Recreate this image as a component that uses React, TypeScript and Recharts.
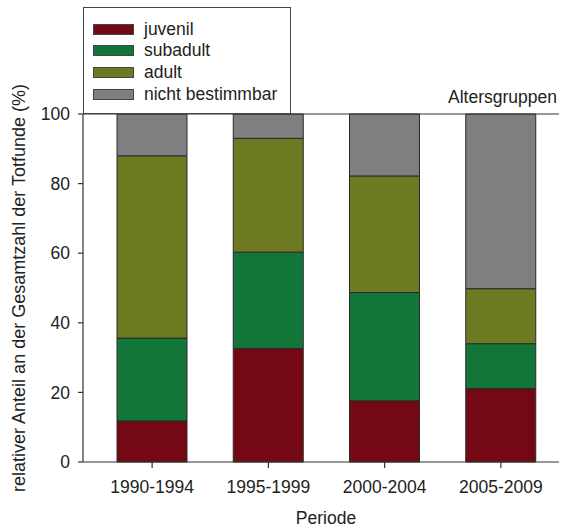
import React from 'react';
import { BarChart, Bar, XAxis, YAxis, ReferenceLine, Legend, Label } from 'recharts';

const periods = ['1990-1994', '1995-1999', '2000-2004', '2005-2009'];
const juvenil = [11.8, 32.6, 17.6, 21.1];
const subadult = [23.8, 27.7, 31.1, 12.9];
const adult = [52.4, 32.7, 33.5, 15.8];
const nichtBestimmbar = [12.0, 7.0, 17.8, 50.2];
const yTicks = [0, 20, 40, 60, 80, 100];

const seriesNames = ['juvenil', 'subadult', 'adult', 'nicht bestimmbar'];
const seriesKeys = ['juvenil', 'subadult', 'adult', 'nicht'];
const seriesColors = ['#740815', '#127638', '#6e7a22', '#7d7f80'];

const data = periods.map((p, i) => ({
  period: p,
  juvenil: juvenil[i],
  subadult: subadult[i],
  adult: adult[i],
  nicht: nichtBestimmbar[i],
}));

const FONT = '"Liberation Sans", Arial, sans-serif';
const TXT = '#222';

const LegendBox = () => (
  <div
    style={{
      width: 206,
      height: 105,
      border: '1px solid #444',
      background: '#fff',
      boxSizing: 'content-box',
      fontFamily: FONT,
      fontSize: 17.5,
      color: TXT,
      position: 'relative',
    }}
  >
    {seriesNames.map((name, i) => (
      <div
        key={name}
        style={{
          position: 'absolute',
          left: 9,
          top: 10 + i * 21.8,
          height: 22,
          display: 'flex',
          alignItems: 'center',
          whiteSpace: 'nowrap',
        }}
      >
        <span
          style={{
            display: 'inline-block',
            width: 39,
            height: 9,
            background: seriesColors[i],
            border: '1px solid #444',
            marginRight: 10,
          }}
        />
        <span>{name}</span>
      </div>
    ))}
  </div>
);

export default function App() {
  return (
    <div style={{ position: 'absolute', left: 0, top: 0, width: 562, height: 531, background: '#fff' }}>
      <BarChart
        width={562}
        height={531}
        data={data}
        margin={{ top: 114, right: 3, bottom: 39, left: 23 }}
        barCategoryGap={0}
      >
        <XAxis
          dataKey="period"
          height={30}
          padding={{ left: 11, right: 0 }}
          axisLine={{ stroke: '#333', strokeWidth: 1.2 }}
          tickLine={{ stroke: '#333', strokeWidth: 1.2 }}
          tickSize={6}
          tickMargin={13}
          tick={{ fill: TXT, fontSize: 17.5, fontFamily: FONT }}
        >
          <Label
            content={() => (
              <text x={326} y={524} textAnchor="middle" fill={TXT} fontSize={17.5} fontFamily={FONT}>
                Periode
              </text>
            )}
          />
        </XAxis>
        <YAxis
          width={60}
          domain={[0, 100]}
          ticks={yTicks}
          interval={0}
          axisLine={{ stroke: '#333', strokeWidth: 1.2 }}
          tickLine={{ stroke: '#333', strokeWidth: 1.2 }}
          tickSize={5}
          tickMargin={8}
          tick={{ fill: TXT, fontSize: 17.5, fontFamily: FONT }}
        >
          <Label
            content={() => (
              <text
                x={25}
                y={288}
                transform="rotate(-90 25 288)"
                textAnchor="middle"
                fill={TXT}
                fontSize={18}
                fontFamily={FONT}
              >
                relativer Anteil an der Gesamtzahl der Totfunde (%)
              </text>
            )}
          />
        </YAxis>
        <Legend
          layout="horizontal"
          verticalAlign="middle"
          align="center"
          wrapperStyle={{ position: 'absolute', top: 7, left: 83, width: 208, height: 107 }}
          content={() => <LegendBox />}
        />
        {seriesKeys.map((k, i) => (
          <Bar
            key={k}
            dataKey={k}
            name={seriesNames[i]}
            stackId="a"
            fill={seriesColors[i]}
            stroke="#2a2a2a"
            strokeWidth={1}
            barSize={70}
            isAnimationActive={false}
          />
        ))}
        <ReferenceLine y={100} stroke="#333" strokeWidth={1.2}>
          <Label
            content={() => (
              <text x={557} y={103} textAnchor="end" fill={TXT} fontSize={17.5} fontFamily={FONT}>
                Altersgruppen
              </text>
            )}
          />
        </ReferenceLine>
      </BarChart>
    </div>
  );
}
